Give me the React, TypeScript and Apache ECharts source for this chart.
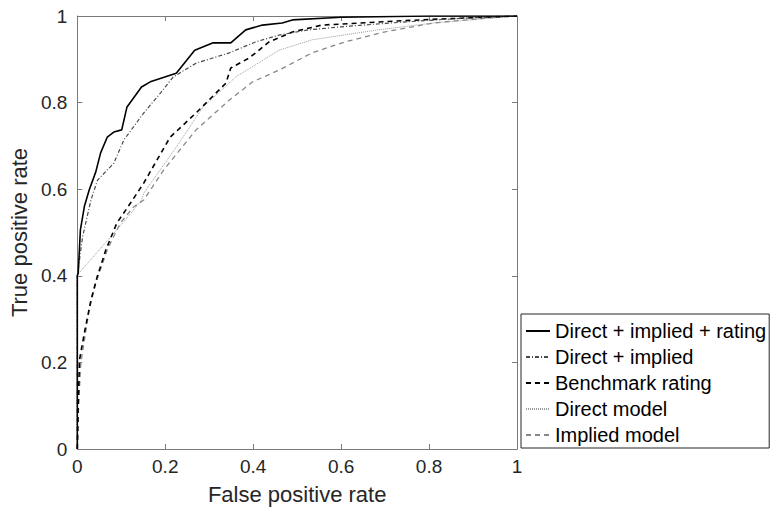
import React, { useEffect, useRef } from "react";
import * as echarts from "echarts";

const seriesNames = [
  "Direct + implied + rating",
  "Direct + implied",
  "Benchmark rating",
  "Direct model",
  "Implied model",
];

const combinedAll: [number, number][] = [
  [0, 0], [0, 0.4], [0.002, 0.406], [0.007, 0.506], [0.016, 0.56], [0.027, 0.598],
  [0.042, 0.64], [0.053, 0.684], [0.068, 0.72], [0.083, 0.732], [0.101, 0.737],
  [0.113, 0.79], [0.146, 0.836], [0.166, 0.848], [0.225, 0.868], [0.267, 0.921],
  [0.309, 0.938], [0.349, 0.938], [0.383, 0.968], [0.421, 0.979], [0.466, 0.984],
  [0.489, 0.991], [0.6, 0.997], [0.8, 1.0], [1, 1],
];

const combinedDI: [number, number][] = [
  [0, 0], [0, 0.4], [0.012, 0.49], [0.031, 0.575], [0.046, 0.621], [0.083, 0.66],
  [0.106, 0.714], [0.151, 0.776], [0.189, 0.822], [0.218, 0.859], [0.27, 0.891],
  [0.346, 0.915], [0.405, 0.94], [0.459, 0.956], [0.526, 0.968], [0.6, 0.975],
  [0.7, 0.983], [0.8, 0.99], [0.9, 0.996], [1, 1],
];

const benchmark: [number, number][] = [
  [0, 0], [0.002, 0.1], [0.005, 0.206], [0.016, 0.268], [0.031, 0.344], [0.045, 0.397],
  [0.065, 0.46], [0.09, 0.522], [0.121, 0.568], [0.151, 0.614], [0.211, 0.72],
  [0.27, 0.776], [0.338, 0.845], [0.349, 0.88], [0.391, 0.903], [0.436, 0.94],
  [0.489, 0.963], [0.556, 0.979], [0.7, 0.987], [0.8, 0.992], [0.9, 0.996], [1, 1],
];

const directModel: [number, number][] = [
  [0, 0], [0, 0.402], [0.106, 0.525], [0.146, 0.575], [0.151, 0.591], [0.225, 0.697],
  [0.286, 0.79], [0.36, 0.859], [0.459, 0.921], [0.534, 0.945], [0.684, 0.968],
  [0.811, 0.984], [1, 1],
];

const impliedModel: [number, number][] = [
  [0, 0], [0.003, 0.1], [0.008, 0.199], [0.027, 0.321], [0.042, 0.383], [0.068, 0.46],
  [0.098, 0.522], [0.128, 0.559], [0.151, 0.575], [0.196, 0.644], [0.27, 0.737],
  [0.346, 0.806], [0.399, 0.848], [0.459, 0.875], [0.534, 0.915], [0.608, 0.94],
  [0.698, 0.963], [0.811, 0.984], [0.962, 0.998], [1, 1],
];

const seriesData = [combinedAll, combinedDI, benchmark, directModel, impliedModel];

const seriesStyles = [
  { color: "#000000", width: 1.6, type: "solid" as any },
  { color: "#4a4a4a", width: 1.2, type: [4, 2, 1, 2] },
  { color: "#000000", width: 1.6, type: [5, 4] },
  { color: "#9a9a9a", width: 1, type: [1, 1] },
  { color: "#888888", width: 1.3, type: [5, 4] },
];

const FONT = "'Liberation Sans', Arial, Helvetica, sans-serif";
const AXIS_COLOR = "#7a7a7a";

export default function App() {
  const ref = useRef<HTMLDivElement>(null);
  useEffect(() => {
    if (!ref.current) return;
    document.body.style.margin = "0";
    const chart = echarts.init(ref.current, undefined, { renderer: "svg" });
    const baseAxis = {
      type: "value" as const,
      min: 0,
      max: 1,
      interval: 0.2,
      splitLine: { show: false },
      axisLine: { show: true, onZero: false, lineStyle: { color: AXIS_COLOR, width: 1 } },
      axisTick: { show: true, inside: true, length: 5, lineStyle: { color: AXIS_COLOR } },
    };
    chart.setOption({
      animation: false,
      textStyle: { fontFamily: FONT },
      grid: { left: 72, right: 254, top: 16, bottom: 63, containLabel: false },
      xAxis: [
        {
          ...baseAxis,
          position: "bottom",
          name: "False positive rate",
          nameLocation: "middle",
          nameGap: 34,
          nameTextStyle: { fontSize: 22, color: "#262626", fontFamily: FONT },
          axisLabel: { fontSize: 19, color: "#262626", margin: 8, fontFamily: FONT },
        },
        {
          ...baseAxis,
          position: "top",
          axisLabel: { show: false },
        },
      ],
      yAxis: [
        {
          ...baseAxis,
          position: "left",
          name: "True positive rate",
          nameLocation: "middle",
          nameGap: 42,
          nameTextStyle: { fontSize: 22, color: "#262626", fontFamily: FONT },
          axisLabel: { fontSize: 19, color: "#262626", margin: 10, fontFamily: FONT },
        },
        {
          ...baseAxis,
          position: "right",
          axisLabel: { show: false },
        },
      ],
      legend: {
        orient: "vertical",
        left: 521,
        top: 314,
        padding: [7, 3, 3, 4],
        itemGap: 6,
        itemWidth: 24,
        itemHeight: 14,
        borderColor: "#262626",
        borderWidth: 1,
        backgroundColor: "#ffffff",
        itemStyle: { opacity: 0 },
        textStyle: { fontSize: 20, color: "#000000", fontFamily: FONT, lineHeight: 20 },
        data: seriesNames.map((n) => ({ name: n })),
      },
      series: seriesNames.map((name, i) => ({
        name,
        type: "line",
        xAxisIndex: 0,
        yAxisIndex: 0,
        data: seriesData[i],
        showSymbol: false,
        symbol: "none",
        smooth: false,
        clip: true,
        lineStyle: seriesStyles[i],
        itemStyle: { color: seriesStyles[i].color },
        emphasis: { disabled: true },
        z: 10 - i,
      })),
    });
    return () => chart.dispose();
  }, []);
  return <div ref={ref} style={{ width: 771, height: 512 }} />;
}
